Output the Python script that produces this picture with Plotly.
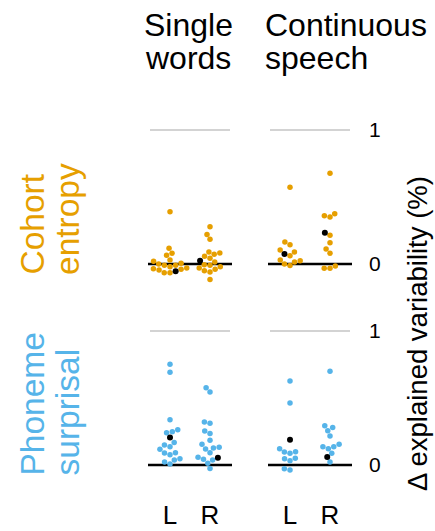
import math
import plotly.graph_objects as go

# ---------------- data ----------------
hemispheres = ["L", "R"]
columns = ["Single words", "Continuous speech"]
rows = ["Cohort entropy", "Phoneme surprisal"]

cohort_single_L = [0.39, 0.117, 0.08, 0.065, 0.03, 0.02, -0.01, -0.01, 0.0, -0.02, -0.03,
                   -0.04, -0.045, -0.065, -0.065, -0.035, 0.005]
cohort_single_R = [0.278, 0.221, 0.184, 0.09, 0.082, 0.072, 0.057, 0.042, 0.015, -0.005, -0.01,
                   -0.02, -0.03, -0.04, -0.05, -0.06, -0.115]
cohort_cont_L = [0.572, 0.164, 0.144, 0.104, 0.09, 0.062, 0.025, 0.03, 0.015, 0.0, -0.012]
cohort_cont_R = [0.677, 0.375, 0.36, 0.35, 0.214, 0.159, 0.112, 0.08, -0.015, -0.032, -0.032]

phon_single_L = [0.751, 0.692, 0.338, 0.263, 0.248, 0.241, 0.167, 0.149, 0.137, 0.117, 0.092,
                 0.09, 0.077, 0.047, 0.037, 0.023, 0.008]
phon_single_R = [0.577, 0.545, 0.321, 0.311, 0.254, 0.236, 0.184, 0.154, 0.132, 0.127, 0.12,
                 0.092, 0.057, 0.042, 0.037, 0.013, -0.027]
phon_cont_L = [0.627, 0.463, 0.122, 0.099, 0.097, 0.087, 0.05, 0.047, 0.032, -0.028, -0.037]
phon_cont_R = [0.699, 0.293, 0.279, 0.256, 0.216, 0.154, 0.137, 0.137, 0.122, 0.087, 0.022]

# summary (black) dots per panel: [L, R]
mean_cohort_single = [-0.055, 0.025]
mean_cohort_cont = [0.075, 0.234]
mean_phon_single = [0.206, 0.055]
mean_phon_cont = [0.189, 0.06]

y_ticks = [0, 1]

ORANGE = "#E69F00"
BLUE = "#56B4E9"
FONT = "Liberation Sans, Arial, Helvetica, sans-serif"

W, H = 435, 531
XRANGE = [-0.6, 1.6]
YRANGE = [-0.15, 1.05]
XUNIT = 40.0   # px per x unit
YUNIT = 134.0  # px per y unit
DOT = 5.5
SEP = 5.8


def px(x):
    return x / W


def py(y):
    return 1 - y / H


def swarm(values):
    """Beeswarm offsets (in x data units) for a list of values."""
    order = sorted(range(len(values)), key=lambda i: values[i])
    placed = []
    offs = [0.0] * len(values)
    for i in order:
        y = values[i] * YUNIT
        cands = [0.0]
        for (qx, qy) in placed:
            dy = abs(qy - y)
            if dy < SEP:
                dx = math.sqrt(SEP * SEP - dy * dy)
                cands += [qx + dx, qx - dx]
        cands.sort(key=lambda c: (abs(c), c))
        chosen = cands[-1]
        for c in cands:
            if all((c - qx) ** 2 + (y - qy) ** 2 >= SEP * SEP - 1e-6 for qx, qy in placed):
                chosen = c
                break
        placed.append((chosen, y))
        offs[i] = chosen / XUNIT
    return offs


panels = [
    # (axis suffix, color, L values, R values, means)
    ("", ORANGE, cohort_single_L, cohort_single_R, mean_cohort_single),
    ("2", ORANGE, cohort_cont_L, cohort_cont_R, mean_cohort_cont),
    ("3", BLUE, phon_single_L, phon_single_R, mean_phon_single),
    ("4", BLUE, phon_cont_L, phon_cont_R, mean_phon_cont),
]

fig = go.Figure()
shapes = []
for suf, color, vl, vr, means in panels:
    xr, yr = "x" + suf, "y" + suf
    for k, vals in enumerate([vl, vr]):
        allv = list(vals) + [means[k]]
        offs = swarm(allv)
        xs = [k + o for o in offs]
        fig.add_trace(go.Scatter(
            x=xs[:-1], y=allv[:-1], mode="markers", xaxis=xr, yaxis=yr,
            marker=dict(size=DOT, color=color, line=dict(width=0)),
            cliponaxis=False, showlegend=False, hoverinfo="y"))
        fig.add_trace(go.Scatter(
            x=[xs[-1]], y=[allv[-1]], mode="markers", xaxis=xr, yaxis=yr,
            marker=dict(size=DOT + 0.5, color="black", line=dict(width=0)),
            cliponaxis=False, showlegend=False, hoverinfo="y"))
    shapes.append(dict(type="line", xref=xr, yref=yr, x0=-0.5, x1=1.5, y0=1, y1=1,
                       line=dict(color="#c4c4c4", width=1.5), layer="below"))
    shapes.append(dict(type="line", xref=xr, yref=yr, x0=-0.55, x1=1.55, y0=0, y1=0,
                       line=dict(color="black", width=2.5), layer="below"))

col_px = [(146, 234), (266, 354)]
row_px = [(264 - 1.05 * YUNIT, 264 + 0.15 * YUNIT), (465 - 1.05 * YUNIT, 465 + 0.15 * YUNIT)]

base_ax = dict(showgrid=False, zeroline=False, showline=False, ticks="", fixedrange=True,
               automargin=False)
layout = dict(width=W, height=H, margin=dict(l=0, r=0, t=0, b=0, autoexpand=False),
              paper_bgcolor="white", plot_bgcolor="white", showlegend=False,
              font=dict(family=FONT, color="black"))
for idx, suf in enumerate(["", "2", "3", "4"]):
    r, c = divmod(idx, 2)
    x0, x1 = col_px[c]
    y0, y1 = row_px[r]
    xa = dict(base_ax, range=XRANGE, domain=[px(x0), px(x1)], anchor="y" + suf,
              showticklabels=(r == 1), tickvals=[0, 1], ticktext=hemispheres,
              tickfont=dict(size=26, family=FONT, color="black"), ticklabelstandoff=12)
    ya = dict(base_ax, range=YRANGE, domain=[py(y1), py(y0)], anchor="x" + suf,
              showticklabels=(c == 1), side="right", tickvals=y_ticks,
              ticktext=[str(v) for v in y_ticks],
              tickfont=dict(size=21, family=FONT, color="black"), ticklabelstandoff=14)
    layout["xaxis" + suf] = xa
    layout["yaxis" + suf] = ya

fig.update_layout(**layout)
fig.update_layout(shapes=shapes)

ann = []
# column headers
ann.append(dict(text="Single", x=px(188), y=py(25), xanchor="center", yanchor="middle"))
ann.append(dict(text="words", x=px(188), y=py(58), xanchor="center", yanchor="middle"))
ann.append(dict(text="Continuous", x=px(263), y=py(25), xanchor="left", yanchor="middle"))
ann.append(dict(text="speech", x=px(263), y=py(58), xanchor="left", yanchor="middle"))
for a in ann:
    a.update(xref="paper", yref="paper", showarrow=False,
             font=dict(size=32, family=FONT, color="black"))

row_ann = []
for (l1, l2), bottom, color in [(("Cohort", "entropy"), 277, ORANGE),
                                (("Phoneme", "surprisal"), 478, BLUE)]:
    row_ann.append(dict(text=l1, x=px(32), y=py(bottom), textangle=-90, xanchor="center",
                        yanchor="bottom", font=dict(size=33.5, family=FONT, color=color)))
    row_ann.append(dict(text=l2, x=px(67), y=py(bottom), textangle=-90, xanchor="center",
                        yanchor="bottom", font=dict(size=33.5, family=FONT, color=color)))
for a in row_ann:
    a.update(xref="paper", yref="paper", showarrow=False)

ytitle = dict(text="Δ explained variability (%)", x=px(417), y=py(334), textangle=-90,
              xanchor="center", yanchor="middle", xref="paper", yref="paper",
              showarrow=False, font=dict(size=27.5, family=FONT, color="black"))

fig.update_layout(annotations=ann + row_ann + [ytitle])
fig.write_html("out.html", config={"displayModeBar": False},
               post_script="document.body.style.margin='0';")
